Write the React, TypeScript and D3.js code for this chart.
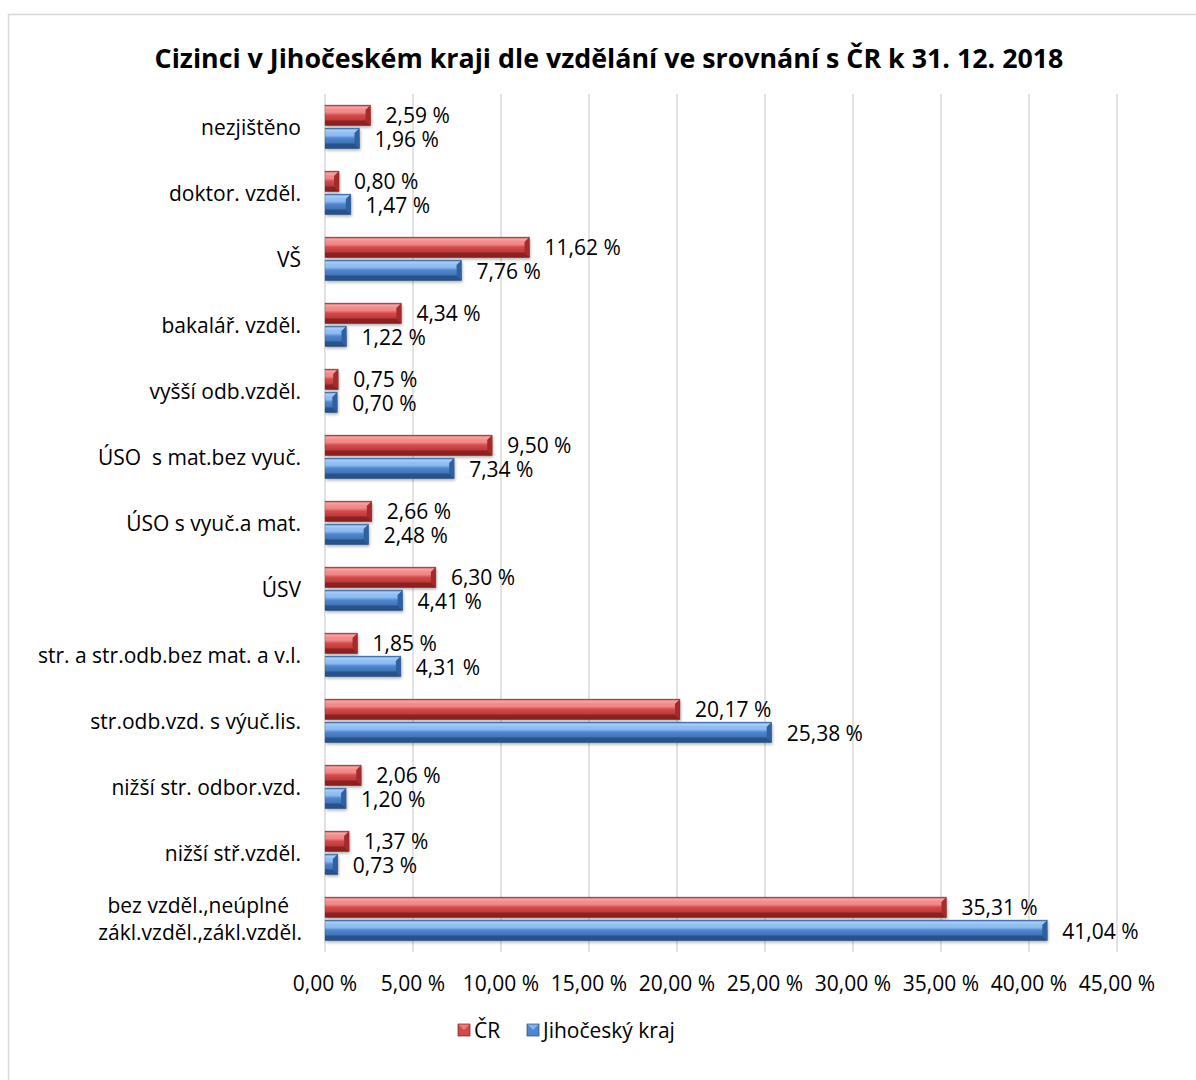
import React from "react";
import * as d3 from "d3";

const categories = [
  "nezjištěno",
  "doktor. vzděl.",
  "VŠ",
  "bakalář. vzděl.",
  "vyšší odb.vzděl.",
  "ÚSO  s mat.bez vyuč.",
  "ÚSO s vyuč.a mat.",
  "ÚSV",
  "str. a str.odb.bez mat. a v.l.",
  "str.odb.vzd. s výuč.lis.",
  "nižší str. odbor.vzd.",
  "nižší stř.vzděl.",
  "bez vzděl.,neúplné|zákl.vzděl.,zákl.vzděl.",
];
const valuesCR = [2.59, 0.8, 11.62, 4.34, 0.75, 9.5, 2.66, 6.3, 1.85, 20.17, 2.06, 1.37, 35.31];
const valuesJK = [1.96, 1.47, 7.76, 1.22, 0.7, 7.34, 2.48, 4.41, 4.31, 25.38, 1.2, 0.73, 41.04];
const ticks = [0, 5, 10, 15, 20, 25, 30, 35, 40, 45];
const seriesNames = ["ČR", "Jihočeský kraj"];
const title = "Cizinci v Jihočeském kraji dle vzdělání ve srovnání s ČR k 31. 12. 2018";

const W = 1196;
const H = 1080;
const FONT = "'Open Sans', sans-serif";
const FS = 21;

const fmt = (v: number) => v.toFixed(2).replace(".", ",") + " %";

const palettes = [
  { id: "red", light: "#f28a8a", mid: "#d44a4a", dark: "#a52a2a", darker: "#7e1c1c", top: "#f7a5a5" },
  { id: "blue", light: "#8fbdf2", mid: "#4f86cf", dark: "#2f609f", darker: "#234a7c", top: "#a9cff7" },
];

function Bar({ x0, x1, y, h, p }: { x0: number; x1: number; y: number; h: number; p: any }) {
  const w = x1 - x0;
  const b = Math.min(5, w / 2, h / 3);
  const y1 = y + h;
  return (
    <g>
      <rect x={x0 + 1} y={y + 2} width={w} height={h} fill="#000" opacity={0.3} filter="url(#shadow)" />
      <rect x={x0} y={y} width={w} height={h} fill={`url(#grad-${p.id})`} />
      <polygon points={`${x0},${y} ${x1},${y} ${x1 - b},${y + b} ${x0},${y + b}`} fill={`url(#top-${p.id})`} />
      <polygon points={`${x0},${y1} ${x1},${y1} ${x1 - b},${y1 - b} ${x0},${y1 - b}`} fill={p.darker} opacity={0.75} />
      <polygon points={`${x1},${y} ${x1},${y1} ${x1 - b},${y1 - b} ${x1 - b},${y + b}`} fill={p.dark} />
      <rect x={x0} y={y} width={w} height={h} fill="none" stroke={p.darker} strokeWidth={0.5} opacity={0.5} />
    </g>
  );
}

export default function App() {
  const x = d3.scaleLinear().domain([0, 45]).range([325, 1117]);
  const yBand = d3.scaleBand().domain(categories).range([94, 952]).paddingInner(0).paddingOuter(0);
  const plotTop = 94;
  const plotBottom = 952;

  return (
    <svg
      width={W}
      height={H}
      style={{ position: "absolute", left: 0, top: 0, display: "block", background: "#fff", whiteSpace: "pre" }}
      fontFamily={FONT}
    >
      <defs>
        <filter id="shadow" x="-10%" y="-50%" width="120%" height="200%">
          <feGaussianBlur stdDeviation="1.8" />
        </filter>
        {palettes.map((p) => (
          <React.Fragment key={p.id}>
            <linearGradient id={`grad-${p.id}`} x1="0" y1="0" x2="0" y2="1">
              <stop offset="0" stopColor={p.light} />
              <stop offset="0.35" stopColor={p.light} />
              <stop offset="0.5" stopColor={p.mid} />
              <stop offset="1" stopColor={p.dark} />
            </linearGradient>
            <linearGradient id={`top-${p.id}`} x1="0" y1="0" x2="0" y2="1">
              <stop offset="0" stopColor={p.dark} />
              <stop offset="0.4" stopColor={p.top} />
              <stop offset="1" stopColor={p.light} />
            </linearGradient>
          </React.Fragment>
        ))}
      </defs>
      <rect x={0} y={0} width={W} height={H} fill="#fff" />
      <rect x={8.5} y={14.5} width={W + 20} height={H + 20} fill="none" stroke="#d9d9d9" strokeWidth={1.5} />

      <text x={609} y={57} textAnchor="middle" dominantBaseline="central" fontSize={26.8} fontWeight="bold" fill="#000">
        {title}
      </text>

      {ticks.map((t) => (
        <g key={t}>
          <line x1={x(t)} x2={x(t)} y1={plotTop} y2={plotBottom} stroke="#d9d9d9" strokeWidth={1.5} />
          <text x={x(t)} y={983} textAnchor="middle" dominantBaseline="central" fontSize={FS} fill="#000">
            {fmt(t)}
          </text>
        </g>
      ))}

      {categories.map((c, i) => {
        const c0 = (yBand(c) as number) + yBand.bandwidth() / 2;
        const lines = c.split("|");
        return (
          <g key={c}>
            {lines.length === 1 ? (
              <text x={301} y={c0} textAnchor="end" dominantBaseline="central" fontSize={FS} fill="#000" xmlSpace="preserve">
                {c}
              </text>
            ) : (
              lines.map((l, k) => (
                <text
                  key={k}
                  x={k === 0 ? 289 : 302}
                  y={c0 - 14 + k * 27}
                  textAnchor="end"
                  dominantBaseline="central"
                  fontSize={FS}
                  fill="#000"
                >
                  {l}
                </text>
              ))
            )}
            {[valuesCR[i], valuesJK[i]].map((v, s) => {
              const by = s === 0 ? c0 - 22 : c0 + 1;
              return (
                <g key={s}>
                  <Bar x0={x(0)} x1={x(v)} y={by} h={20.5} p={palettes[s]} />
                  <text x={x(v) + 15} y={s === 0 ? c0 - 12.5 : c0 + 12} dominantBaseline="central" fontSize={FS} fill="#000">
                    {fmt(v)}
                  </text>
                </g>
              );
            })}
          </g>
        );
      })}

      {seriesNames.map((n, s) => {
        const lx = s === 0 ? 458 : 527;
        const p = palettes[s];
        return (
          <g key={n}>
            <rect x={lx} y={1024} width={12} height={12} fill={p.mid} />
            <polygon points={`${lx},${1024} ${lx + 12},${1024} ${lx + 6},${1030}`} fill={p.light} opacity={0.8} />
            <rect x={lx} y={1024} width={12} height={12} fill="none" stroke={p.darker} strokeWidth={0.7} />
            <text x={lx + 16} y={1030} dominantBaseline="central" fontSize={FS} fill="#000">
              {n}
            </text>
          </g>
        );
      })}
    </svg>
  );
}
